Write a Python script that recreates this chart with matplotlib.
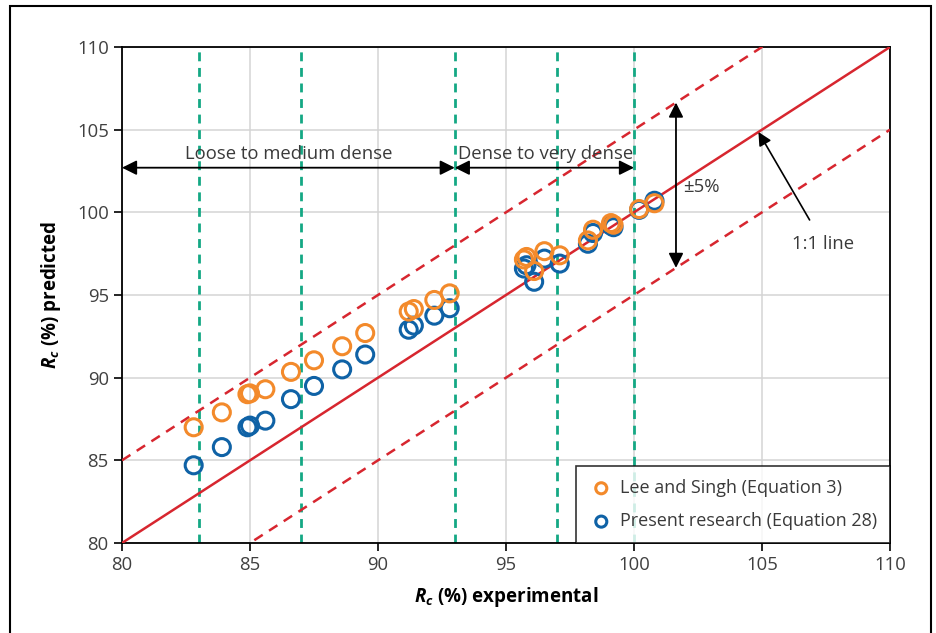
import matplotlib.pyplot as plt
from matplotlib.patches import Rectangle

plt.rcParams['font.family'] = ['Open Sans', 'DejaVu Sans']
plt.rcParams['mathtext.fontset'] = 'custom'
plt.rcParams['mathtext.it'] = 'Open Sans:italic:bold'
plt.rcParams['mathtext.rm'] = 'Open Sans:bold'

# Data
exp_rc = [82.8, 83.9, 84.9, 85.0, 85.6, 86.6, 87.5, 88.6, 89.5, 91.2, 91.4, 92.2, 92.8,
          95.7, 95.8, 96.1, 96.5, 97.1, 98.2, 98.4, 99.1, 99.2, 100.2, 100.8]
lee_singh = [87.0, 87.9, 89.0, 89.05, 89.3, 90.35, 91.05, 91.9, 92.7, 94.0, 94.15, 94.7, 95.1,
             97.15, 97.3, 96.45, 97.65, 97.4, 98.3, 98.95, 99.35, 99.25, 100.2, 100.55]
present = [84.7, 85.8, 87.0, 87.1, 87.4, 88.7, 89.5, 90.5, 91.4, 92.9, 93.15, 93.75, 94.2,
           96.6, 96.8, 95.8, 97.2, 96.9, 98.1, 98.75, 99.2, 99.1, 100.15, 100.7]
density_bounds = [83, 87, 93, 97, 100]
ref_x = [80, 110]
band = 5

orange = '#f38a2b'
blue = '#0f62a6'
red = '#d7262f'
green = '#14a884'
text_col = '#3a3a3a'

fig = plt.figure(figsize=(9.36, 6.33), dpi=100)
ax = fig.add_axes([122 / 936, 90 / 633, 768 / 936, 496 / 633])

ax.set_xlim(80, 110)
ax.set_ylim(80, 110)
ax.set_xticks(range(80, 111, 5))
ax.set_yticks(range(80, 111, 5))
ax.grid(True, color='#d4d4d4', lw=1.1)
ax.set_axisbelow(True)

for xb in density_bounds:
    ax.axvline(xb, color=green, lw=2, ls=(0, (3.2, 2.4)), zorder=2)

ax.plot(ref_x, ref_x, color=red, lw=1.8, zorder=3)
ax.plot(ref_x, [v + band for v in ref_x], color=red, lw=1.8, ls=(0, (4, 3)), zorder=3)
ax.plot(ref_x, [v - band for v in ref_x], color=red, lw=1.8, ls=(0, (4, 3)), zorder=3)

h_blue = ax.scatter(exp_rc, present, s=150, facecolors='none', edgecolors=blue,
                    linewidths=2.2, zorder=4)
h_orange = ax.scatter(exp_rc, lee_singh, s=150, facecolors='none', edgecolors=orange,
                      linewidths=2.2, zorder=5)

# Density ranges
arrow_kw = dict(arrowstyle='<|-|>', color='black', lw=1.3, mutation_scale=22,
                shrinkA=0, shrinkB=0)
ax.annotate('', xy=(80, 102.7), xytext=(93, 102.7), arrowprops=arrow_kw, zorder=6)
ax.annotate('', xy=(93, 102.7), xytext=(100, 102.7), arrowprops=arrow_kw, zorder=6)
ax.text(86.5, 103.0, 'Loose to medium dense', ha='center', va='bottom',
        fontsize=13.3, color=text_col)
ax.text(96.55, 103.0, 'Dense to very dense', ha='center', va='bottom',
        fontsize=13.3, color=text_col)

# +-5% band
ax.annotate('', xy=(101.64, 106.64), xytext=(101.64, 96.64), arrowprops=arrow_kw, zorder=6)
ax.text(101.9, 101.55, '±5%', ha='left', va='center', fontsize=13.3, color=text_col)

# 1:1 line label
ax.annotate('1:1 line', xy=(104.86, 104.86), xytext=(107.4, 98.1),
            ha='center', va='center', fontsize=13.3, color=text_col,
            arrowprops=dict(arrowstyle='-|>', color='black', lw=1.2,
                            mutation_scale=20, shrinkA=10, shrinkB=0))

ax.set_xlabel('$R_c$ (%) experimental', fontsize=13.5, fontweight='bold', labelpad=8)
ax.set_ylabel('$R_c$ (%) predicted', fontsize=13.5, fontweight='bold', labelpad=10)

ax.tick_params(axis='both', labelsize=13.3, labelcolor='#404040', length=6,
               width=1.2, direction='out')
ax.tick_params(top=False, right=False)
for sp in ax.spines.values():
    sp.set_color('black')
    sp.set_linewidth(1.3)

leg = ax.legend([h_orange, h_blue],
                ['Lee and Singh (Equation 3)', 'Present research (Equation 28)'],
                loc='lower right', fontsize=13, frameon=True, fancybox=False,
                borderaxespad=0, markerscale=0.65, handletextpad=0.35,
                borderpad=0.7, labelspacing=0.85, handlelength=1.4)
leg.get_frame().set_edgecolor('black')
leg.get_frame().set_linewidth(1.2)
for t in leg.get_texts():
    t.set_color(text_col)

# Outer frame
fig.patches.append(Rectangle((10 / 936, -0.02), 921 / 936, 1.02 - 6 / 633,
                             transform=fig.transFigure, fill=False,
                             edgecolor='black', lw=1.5))

fig.savefig('out.png', dpi=100)
